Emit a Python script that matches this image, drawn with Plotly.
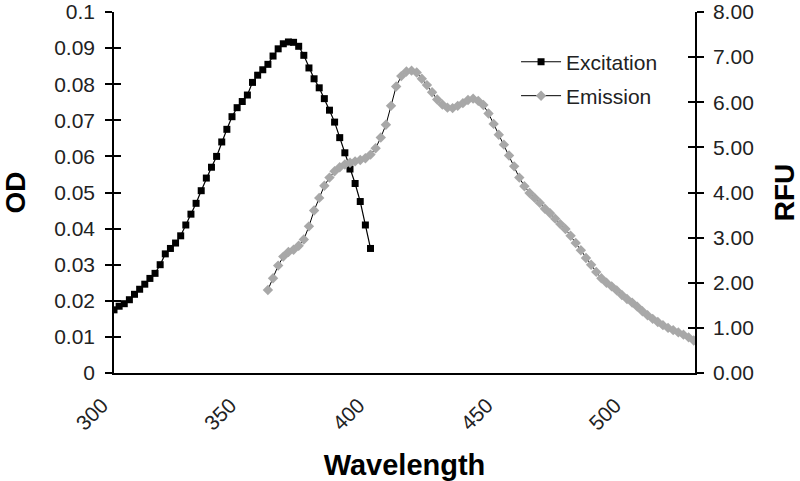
import plotly.graph_objects as go

# Excitation (OD, left axis)
ex_wl = list(range(300, 401, 2))
ex_od = [0.0175, 0.0185, 0.0192, 0.0203, 0.0218, 0.0232, 0.0246, 0.0262, 0.0276, 0.0300,
         0.0330, 0.0345, 0.0360, 0.0380, 0.0410, 0.0440, 0.0470, 0.0505, 0.0540, 0.0570,
         0.0600, 0.0640, 0.0675, 0.0710, 0.0735, 0.0752, 0.0770, 0.0805, 0.0825, 0.0840,
         0.0855, 0.0878, 0.0898, 0.0912, 0.0917, 0.0916, 0.0905, 0.0880, 0.0845, 0.0815,
         0.0790, 0.0760, 0.0728, 0.0695, 0.0652, 0.0610, 0.0565, 0.0525, 0.0475, 0.0410,
         0.0345]

# Emission (RFU, right axis)
em_wl = list(range(360, 527, 2))
em_rfu = [1.84, 2.10, 2.38, 2.58, 2.68, 2.73, 2.82, 2.96, 3.25, 3.60,
          3.88, 4.15, 4.33, 4.47, 4.56, 4.62, 4.66, 4.69, 4.72, 4.76,
          4.84, 4.98, 5.22, 5.50, 5.92, 6.35, 6.58, 6.68, 6.70, 6.66,
          6.52, 6.38, 6.22, 6.06, 5.95, 5.88, 5.87, 5.92, 5.98, 6.05,
          6.08, 6.03, 5.94, 5.75, 5.52, 5.28, 5.06, 4.82, 4.58, 4.33,
          4.14, 3.99, 3.88, 3.77, 3.64, 3.54, 3.42, 3.30, 3.19, 3.04,
          2.88, 2.72, 2.55, 2.40, 2.24, 2.10, 2.00, 1.92, 1.83, 1.73,
          1.64, 1.56, 1.47, 1.37, 1.28, 1.20, 1.13, 1.06, 1.00, 0.95,
          0.90, 0.85, 0.79, 0.72]

x_ticks = [300, 350, 400, 450, 500]
od_ticks = [0, 0.01, 0.02, 0.03, 0.04, 0.05, 0.06, 0.07, 0.08, 0.09, 0.1]
od_labels = ["0", "0.01", "0.02", "0.03", "0.04", "0.05", "0.06", "0.07", "0.08", "0.09", "0.1"]
rfu_ticks = [0, 1, 2, 3, 4, 5, 6, 7, 8]
rfu_labels = ["0.00", "1.00", "2.00", "3.00", "4.00", "5.00", "6.00", "7.00", "8.00"]

FONT = "Arial, Liberation Sans, sans-serif"
TICKFONT = dict(family=FONT, size=21, color="#222222")

fig = go.Figure()
fig.add_trace(go.Scatter(
    x=em_wl, y=em_rfu, name="Emission", yaxis="y2", mode="lines+markers",
    line=dict(color="black", width=1),
    marker=dict(symbol="diamond", size=8, color="#a8a8a8"),
    legend="legend2"))
fig.add_trace(go.Scatter(
    x=ex_wl, y=ex_od, name="Excitation", mode="lines+markers",
    line=dict(color="black", width=1.2),
    marker=dict(symbol="square", size=7, color="black"),
    legend="legend"))

fig.update_layout(
    width=800, height=481,
    margin=dict(l=114, r=105, t=12, b=108, autoexpand=False),
    paper_bgcolor="white", plot_bgcolor="white",
    font=dict(family=FONT, size=20, color="black"),
    xaxis=dict(range=[300, 526.5], tickvals=x_ticks, ticktext=[str(v) for v in x_ticks],
               tickangle=-45, showgrid=False, zeroline=False, showline=True,
               linecolor="black", linewidth=1.5, ticks="", tickfont=TICKFONT, automargin=False,
               ticklabelshift=-12, ticklabelstandoff=10,
               title=dict(text="<b>Wavelength</b>", font=dict(size=29), standoff=21)),
    yaxis=dict(range=[0, 0.1], tickvals=od_ticks, ticktext=od_labels, tickfont=TICKFONT,
               showgrid=False, zeroline=False, showline=True, linecolor="black",
               linewidth=1.5, ticks="outside", ticklen=7, tickwidth=1.5, tickcolor="black",
               automargin=False, ticklabelstandoff=6,
               title=dict(text="<b>OD</b>", font=dict(size=28), standoff=36)),
    yaxis2=dict(range=[0, 8], tickvals=rfu_ticks, ticktext=rfu_labels, overlaying="y",
                side="right", showgrid=False, zeroline=False, showline=True, tickfont=TICKFONT,
                linecolor="black", linewidth=1.5, ticks="outside", ticklen=7,
                tickwidth=1.5, tickcolor="black", automargin=False, ticklabelstandoff=5,
                title=dict(text="<b>RFU</b>", font=dict(size=28), standoff=24)),
    yaxis3=dict(range=[0, 0.1], tickvals=od_ticks, overlaying="y", side="left",
                showticklabels=False, showgrid=False, zeroline=False, showline=False,
                ticks="inside", ticklen=7, tickwidth=1.5, tickcolor="black", automargin=False),
    yaxis4=dict(range=[0, 8], tickvals=rfu_ticks, overlaying="y", side="right",
                showticklabels=False, showgrid=False, zeroline=False, showline=False,
                ticks="inside", ticklen=7, tickwidth=1.5, tickcolor="black", automargin=False),
    legend=dict(x=0.692, y=0.918, xanchor="left", yanchor="top", bgcolor="rgba(0,0,0,0)",
                font=dict(size=21, color="#222222"), itemwidth=40),
    legend2=dict(x=0.692, y=0.824, xanchor="left", yanchor="top", bgcolor="rgba(0,0,0,0)",
                 font=dict(size=21, color="#222222"), itemwidth=40),
)

# dummy traces to activate the inner-tick overlay axes
fig.add_trace(go.Scatter(x=[None], y=[None], yaxis="y3", showlegend=False, hoverinfo="skip"))
fig.add_trace(go.Scatter(x=[None], y=[None], yaxis="y4", showlegend=False, hoverinfo="skip"))

fig.write_html("out.html", config={"displayModeBar": False},
               post_script="document.body.style.margin='0px';")
